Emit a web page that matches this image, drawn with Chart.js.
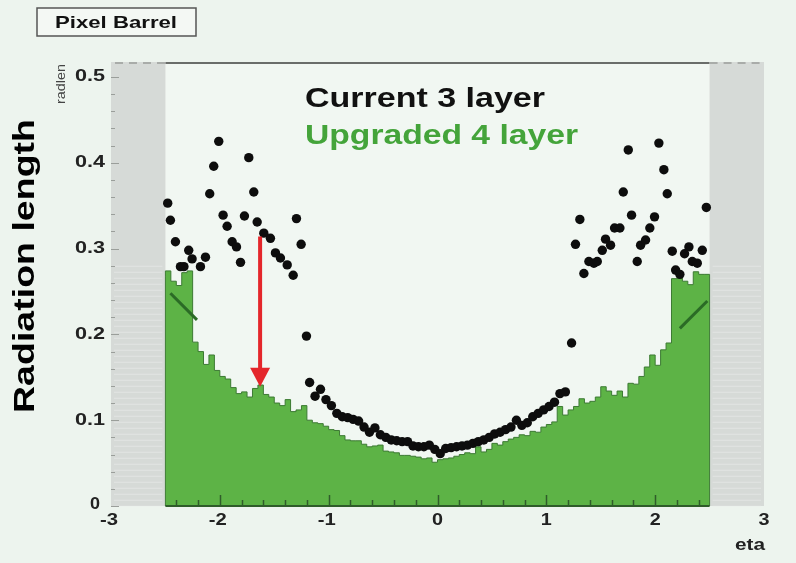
<!DOCTYPE html>
<html>
<head>
<meta charset="utf-8">
<script src="https://cdn.jsdelivr.net/npm/chart.js@4.4.1/dist/chart.umd.min.js"></script>
<style>
  html, body { margin: 0; padding: 0; background: #edf4ee; }
  #wrap { width: 796px; height: 563px; position: relative; }
</style>
</head>
<body>
<div id="wrap"><canvas id="c" width="796" height="563"></canvas></div>
<script>
// Pixel barrel material budget versus pseudorapidity

// Upgraded 4-layer detector: histogram, 100 bins of 0.05 in eta from -2.5 to 2.5
const histStart = -2.5;
const histBinWidth = 0.05;
const upgradedLayer4 = [
  0.268, 0.274, 0.262, 0.257, 0.272, 0.274, 0.191, 0.180, 0.165, 0.176,
  0.158, 0.151, 0.148, 0.138, 0.131, 0.133, 0.127, 0.137, 0.141, 0.130,
  0.127, 0.120, 0.117, 0.124, 0.110, 0.112, 0.117, 0.100, 0.097, 0.096,
  0.093, 0.089, 0.088, 0.082, 0.077, 0.076, 0.076, 0.072, 0.069, 0.070,
  0.071, 0.064, 0.063, 0.062, 0.059, 0.059, 0.058, 0.057, 0.055, 0.056,
  0.051, 0.054, 0.055, 0.056, 0.058, 0.060, 0.062, 0.061, 0.069, 0.063,
  0.066, 0.073, 0.071, 0.075, 0.078, 0.080, 0.083, 0.082, 0.087, 0.086,
  0.092, 0.095, 0.098, 0.116, 0.106, 0.112, 0.116, 0.125, 0.120, 0.122,
  0.127, 0.139, 0.134, 0.129, 0.134, 0.127, 0.143, 0.142, 0.151, 0.162,
  0.176, 0.164, 0.182, 0.190, 0.265, 0.266, 0.262, 0.258, 0.273, 0.270
];

// Current 3-layer detector: measured points
const currentEta = [
  -2.479, -2.454, -2.408, -2.362, -2.330, -2.286, -2.255, -2.178, -2.132, -2.093,
  -2.056, -2.010, -1.970, -1.933, -1.887, -1.847, -1.810, -1.774, -1.734, -1.688,
  -1.657, -1.596, -1.535, -1.489, -1.443, -1.381, -1.326, -1.296, -1.253, -1.204,
  -1.175, -1.125, -1.075, -1.025, -0.975, -0.925, -0.875, -0.825, -0.775, -0.725,
  -0.675, -0.625, -0.575, -0.525, -0.475, -0.425, -0.375, -0.325, -0.275, -0.225,
  -0.175, -0.125, -0.075, -0.025, 0.025, 0.075, 0.125, 0.175, 0.225, 0.275,
  0.325, 0.375, 0.425, 0.475, 0.525, 0.575, 0.625, 0.675, 0.725, 0.775,
  0.825, 0.875, 0.925, 0.975, 1.025, 1.075, 1.125, 1.175, 1.232, 1.268,
  1.308, 1.345, 1.391, 1.437, 1.468, 1.514, 1.544, 1.590, 1.627, 1.676,
  1.707, 1.753, 1.783, 1.835, 1.866, 1.912, 1.951, 1.994, 2.034, 2.080,
  2.111, 2.157, 2.188, 2.227, 2.270, 2.310, 2.341, 2.387, 2.433, 2.470
];
const currentLayer3 = [
  0.353, 0.333, 0.308, 0.279, 0.279, 0.298, 0.288, 0.279, 0.290, 0.364,
  0.396, 0.425, 0.339, 0.326, 0.308, 0.302, 0.284, 0.338, 0.406, 0.366,
  0.331, 0.318, 0.312, 0.295, 0.289, 0.281, 0.269, 0.335, 0.305, 0.198,
  0.144, 0.128, 0.136, 0.124, 0.117, 0.108, 0.104, 0.103, 0.101, 0.099,
  0.092, 0.086, 0.091, 0.083, 0.080, 0.077, 0.076, 0.075, 0.075, 0.070,
  0.069, 0.069, 0.071, 0.066, 0.061, 0.067, 0.068, 0.069, 0.070, 0.071,
  0.073, 0.075, 0.077, 0.080, 0.084, 0.086, 0.089, 0.092, 0.100, 0.094,
  0.097, 0.104, 0.108, 0.112, 0.116, 0.121, 0.131, 0.133, 0.190, 0.305,
  0.334, 0.271, 0.285, 0.283, 0.285, 0.298, 0.311, 0.304, 0.324, 0.324,
  0.366, 0.415, 0.339, 0.285, 0.304, 0.310, 0.324, 0.337, 0.423, 0.392,
  0.364, 0.297, 0.275, 0.270, 0.294, 0.302, 0.285, 0.283, 0.298, 0.348
];

// Short fitted segments in the forward regions
const fitLeftEta = [-2.454, -2.21];
const fitLeftVal = [0.248, 0.217];
const fitRightEta = [2.227, 2.479];
const fitRightVal = [0.207, 0.239];

// Arrow marking the reduction at eta = -1.63
const arrowEta = -1.63;
const arrowFrom = 0.314;
const arrowTo = 0.139;

// Axis labels and ticks
const xTickValues = [-3, -2, -1, 0, 1, 2, 3];
const xTickLabels = ['-3', '-2', '-1', '0', '1', '2', '3'];
const yTickValues = [0, 0.1, 0.2, 0.3, 0.4, 0.5];
const yTickLabels = ['0', '0.1', '0.2', '0.3', '0.4', '0.5'];
const titleText = 'Pixel Barrel';
const yTitle = 'Radiation length';
const yUnit = 'radlen';
const xTitle = 'eta';
const legendCurrent = 'Current 3 layer';
const legendUpgraded = 'Upgraded 4 layer';

// Histogram outline as stepped points (bin left edges)
const histPoints = [{ x: histStart, y: 0 }];
upgradedLayer4.forEach((v, i) => histPoints.push({ x: histStart + i * histBinWidth, y: v }));
histPoints.push({ x: histStart + upgradedLayer4.length * histBinWidth, y: upgradedLayer4[upgradedLayer4.length - 1] });
histPoints.push({ x: histStart + upgradedLayer4.length * histBinWidth, y: 0 });

const dotPoints = currentEta.map((e, i) => ({ x: e, y: currentLayer3[i] }));
const fitLeft = fitLeftEta.map((e, i) => ({ x: e, y: fitLeftVal[i] }));
const fitRight = fitRightEta.map((e, i) => ({ x: e, y: fitRightVal[i] }));

const FONT = '"Liberation Sans", Arial, Helvetica, sans-serif';

// Draw text squeezed/stretched to a given width
function fitText(ctx, text, cx, cy, size, width, color, rot, weight) {
  ctx.save();
  ctx.font = (weight || 'bold') + ' ' + size + 'px ' + FONT;
  const w = ctx.measureText(text).width;
  ctx.translate(cx, cy);
  if (rot) ctx.rotate(rot);
  ctx.scale(width / w, 1);
  ctx.fillStyle = color;
  ctx.textAlign = 'center';
  ctx.textBaseline = 'middle';
  ctx.fillText(text, 0, 0);
  ctx.restore();
}

const framePlugin = {
  id: 'frame',
  beforeDatasetsDraw(chart) {
    const { ctx, chartArea: a, scales: { x, y } } = chart;
    ctx.save();
    // plot interior
    ctx.fillStyle = '#f1f7f2';
    ctx.fillRect(a.left, a.top, a.right - a.left, a.bottom - a.top);
    // out-of-acceptance bands
    const bands = [[-3, histStart], [histStart + upgradedLayer4.length * histBinWidth, 3]];
    bands.forEach(([e0, e1]) => {
      const x0 = x.getPixelForValue(e0), x1 = x.getPixelForValue(e1);
      ctx.fillStyle = '#d6dad7';
      ctx.fillRect(x0, a.top, x1 - x0, a.bottom - a.top);
      ctx.strokeStyle = 'rgba(235,239,235,0.55)';
      ctx.lineWidth = 1;
      for (let yy = y.getPixelForValue(0.28); yy < a.bottom; yy += 6) {
        ctx.beginPath();
        ctx.moveTo(x0 + 3, yy + 0.5);
        ctx.lineTo(x1 - 3, yy + 0.5);
        ctx.stroke();
      }
    });
    ctx.restore();
  },
  afterDatasetsDraw(chart) {
    const { ctx, chartArea: a, scales: { x, y } } = chart;
    ctx.save();
    const xl = x.getPixelForValue(histStart);
    const xr = x.getPixelForValue(histStart + upgradedLayer4.length * histBinWidth);
    // top frame
    ctx.strokeStyle = '#6a6d6a';
    ctx.lineWidth = 2;
    ctx.beginPath();
    ctx.moveTo(xl, a.top + 1);
    ctx.lineTo(xr, a.top + 1);
    ctx.stroke();
    ctx.strokeStyle = '#a9aca9';
    ctx.setLineDash([8, 6]);
    ctx.beginPath();
    ctx.moveTo(a.left + 4, a.top + 1); ctx.lineTo(xl, a.top + 1);
    ctx.moveTo(xr, a.top + 1); ctx.lineTo(a.right, a.top + 1);
    ctx.stroke();
    ctx.setLineDash([]);
    // bottom axis line
    ctx.strokeStyle = '#2f5c2a';
    ctx.lineWidth = 2;
    ctx.beginPath();
    ctx.moveTo(xl, a.bottom);
    ctx.lineTo(xr, a.bottom);
    ctx.stroke();
    // x ticks
    ctx.lineWidth = 1.5;
    for (let k = -12; k <= 12; k++) {
      const e = k * 0.2;
      const px = Math.round(x.getPixelForValue(e)) + 0.5;
      const major = k % 5 === 0;
      ctx.beginPath();
      ctx.moveTo(px, a.bottom);
      ctx.lineTo(px, a.bottom - (major ? 11 : 6));
      ctx.stroke();
    }
    // y ticks
    ctx.strokeStyle = '#9a9e9a';
    ctx.lineWidth = 1;
    for (let k = 0; k <= 25; k++) {
      const v = k * 0.02;
      const py = Math.round(y.getPixelForValue(v)) + 0.5;
      const major = k % 5 === 0;
      ctx.beginPath();
      ctx.moveTo(a.left, py);
      ctx.lineTo(a.left + (major ? 8 : 4), py);
      ctx.stroke();
    }
    // arrow
    const ax = x.getPixelForValue(arrowEta);
    const ay0 = y.getPixelForValue(arrowFrom);
    const ay1 = y.getPixelForValue(arrowTo);
    ctx.strokeStyle = '#e4262b';
    ctx.fillStyle = '#e4262b';
    ctx.lineWidth = 4;
    ctx.beginPath();
    ctx.moveTo(ax, ay0);
    ctx.lineTo(ax, ay1 - 16);
    ctx.stroke();
    ctx.beginPath();
    ctx.moveTo(ax - 10, ay1 - 19);
    ctx.lineTo(ax + 10, ay1 - 19);
    ctx.lineTo(ax, ay1);
    ctx.closePath();
    ctx.fill();
    ctx.restore();
  },
  afterDraw(chart) {
    const { ctx, chartArea: a, scales: { x, y } } = chart;
    ctx.save();
    // y tick labels
    yTickValues.forEach((v, i) => {
      const t = yTickLabels[i];
      const w = t.length === 1 ? 10 : 30;
      const py = y.getPixelForValue(v);
      fitText(ctx, t, a.left - 6 - w / 2 - (t.length === 1 ? 5 : 0), py + (t.length === 1 ? -1 : 0), 16, w, '#222', 0);
    });
    // x tick labels
    xTickValues.forEach((v, i) => {
      const t = xTickLabels[i];
      const w = t.length === 1 ? 11 : 18;
      fitText(ctx, t, x.getPixelForValue(v) - (t.length === 1 ? 0 : 2), a.bottom + 15, 16, w, '#222', 0);
    });
    // axis titles
    fitText(ctx, xTitle, 750, 546, 16, 30, '#222', 0);
    fitText(ctx, yUnit, 62, 84, 12, 40, '#444', -Math.PI / 2, 'normal');
    fitText(ctx, yTitle, 26, 266, 30, 294, '#000', -Math.PI / 2);
    // legend text
    fitText(ctx, legendCurrent, 425, 100, 27, 240, '#111', 0);
    fitText(ctx, legendUpgraded, 441.5, 137, 27, 273, '#44a43a', 0);
    // title box
    ctx.fillStyle = '#f4f8f4';
    ctx.fillRect(37, 8, 159, 28);
    ctx.strokeStyle = '#555';
    ctx.lineWidth = 1.5;
    ctx.strokeRect(37, 8, 159, 28);
    fitText(ctx, titleText, 116, 23, 17, 122, '#111', 0);
    ctx.restore();
  }
};

new Chart(document.getElementById('c'), {
  type: 'scatter',
  data: {
    datasets: [
      {
        label: legendCurrent,
        data: dotPoints,
        pointRadius: 4.7,
        pointBackgroundColor: '#0d0d0d',
        pointBorderWidth: 0,
        showLine: false,
        order: 0
      },
      {
        type: 'line',
        data: fitLeft,
        borderColor: '#2b6b26',
        borderWidth: 3,
        pointRadius: 0,
        fill: false,
        order: 1
      },
      {
        type: 'line',
        data: fitRight,
        borderColor: '#2b6b26',
        borderWidth: 3,
        pointRadius: 0,
        fill: false,
        order: 1
      },
      {
        type: 'line',
        label: legendUpgraded,
        data: histPoints,
        stepped: 'after',
        borderColor: '#3c7a33',
        borderWidth: 1,
        backgroundColor: '#5db346',
        fill: 'origin',
        pointRadius: 0,
        order: 2
      }
    ]
  },
  options: {
    responsive: false,
    devicePixelRatio: 1,
    animation: false,
    layout: { padding: { left: 111, right: 32, top: 62, bottom: 57 } },
    plugins: { legend: { display: false }, tooltip: { enabled: false } },
    scales: {
      x: { type: 'linear', min: -3, max: 3, display: false },
      y: { type: 'linear', min: 0, max: 0.5175, display: false }
    }
  },
  plugins: [framePlugin]
});
</script>
</body>
</html>
